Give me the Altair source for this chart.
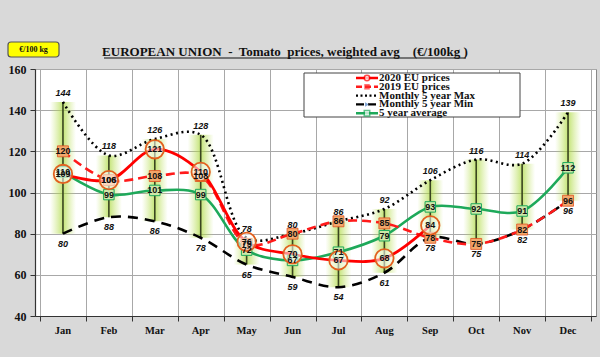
import altair as alt
import pandas as pd

months = ["Jan", "Feb", "Mar", "Apr", "May", "Jun", "Jul", "Aug", "Sep", "Oct", "Nov", "Dec"]
max5 = [144, 118, 126, 128, 78, 80, 86, 92, 106, 116, 114, 139]
min5 = [80, 88, 86, 78, 65, 59, 54, 61, 78, 75, 82, 96]
p2020 = [109, 106, 121, 110, 76, 70, 67, 68, 84, None, None, None]
p2019 = [120, 106, 108, 108, 75, 80, 86, 85, 78, 75, 82, 96]
avg5 = [110, 99, 101, 99, 72, 67, 71, 79, 93, 92, 91, 112]
y_ticks = [40, 60, 80, 100, 120, 140, 160]

W, H = 561, 247

df = pd.DataFrame({
    "month": months,
    "xi": [i + 0.5 for i in range(len(months))],
    "max5": max5, "min5": min5, "p2020": p2020, "p2019": p2019, "avg5": avg5,
})

xs = alt.Scale(domain=[0, 12], nice=False, zero=False)
ys = alt.Scale(domain=[40, 160], nice=False, zero=False)
X = alt.X("xi:Q", scale=xs, axis=alt.Axis(values=list(range(13)), labels=False, title=None,
                                          grid=True, gridColor="#a8a8a8", tickColor="#333",
                                          tickSize=5, domainColor="#333", domainWidth=1.2))
Yaxis = alt.Axis(values=y_ticks, title=None, grid=True, gridColor="#a8a8a8", tickColor="#333",
                 tickSize=5, domainColor="#333", domainWidth=1.2, labelFont="Liberation Serif",
                 labelFontWeight="bold", labelFontSize=12, labelColor="#111", labelPadding=4)

def Y(field):
    return alt.Y(f"{field}:Q", scale=ys, axis=Yaxis)

base = alt.Chart(df)
LF = "Liberation Sans"

glow = base.mark_bar(size=26, color=alt.Gradient(
    gradient="linear", x1=0, x2=1, y1=0, y2=0,
    stops=[alt.GradientStop(color="rgba(190,225,90,0)", offset=0),
           alt.GradientStop(color="rgba(170,216,60,0.7)", offset=0.5),
           alt.GradientStop(color="rgba(190,225,90,0)", offset=1)])).encode(
    x=X, y=Y("max5"), y2="min5")

rule = base.mark_rule(color="#3a4520", strokeWidth=1.6).encode(x=X, y=Y("max5"), y2="min5")

interp = "catmull-rom"
min_line = base.mark_line(color="black", strokeWidth=2.6, strokeDash=[10, 7], interpolate=interp).encode(x=X, y=Y("min5"))
max_line = base.mark_line(color="black", strokeWidth=2.6, strokeDash=[2, 3.5], interpolate=interp).encode(x=X, y=Y("max5"))
avg_line = base.mark_line(color="#1ea95a", strokeWidth=2.6, interpolate=interp).encode(x=X, y=Y("avg5"))
l2019 = base.mark_line(color="#ff1a1a", strokeWidth=2.6, strokeDash=[9, 5], interpolate=interp).encode(x=X, y=Y("p2019"))
l2020 = base.mark_line(color="#ff0000", strokeWidth=2.8, interpolate=interp).encode(x=X, y=Y("p2020"))

avg_pts = base.mark_square(size=110, fill="#cfe8a8", stroke="#1ea95a", strokeWidth=1, opacity=1).encode(x=X, y=Y("avg5"))
p19_pts = base.mark_square(size=120, fill="#f3a86c", stroke="#e05020", strokeWidth=0.8, opacity=1).encode(x=X, y=Y("p2019"))
p20_pts = base.mark_circle(size=340, fill="white", fillOpacity=0.55, stroke="#e2601e", strokeWidth=1.8).encode(x=X, y=Y("p2020"))

def labels(field, dy=0, italic=False, weight="bold"):
    return base.mark_text(font=LF, fontSize=9, fontWeight=weight, fontStyle="italic" if italic else "normal",
                          color="#111", dy=dy).encode(x=X, y=Y(field), text=alt.Text(f"{field}:Q", format="d"))

t_max = labels("max5", dy=-9, italic=True)
t_min = labels("min5", dy=10, italic=True)
t_avg = labels("avg5")
t_19 = labels("p2019")
t_20 = labels("p2020")

month_txt = base.mark_text(font="Liberation Serif", fontSize=10.5, fontWeight="bold", color="#111",
                           baseline="middle").encode(x=X, y=alt.value(H + 15), text="month:N")

one = pd.DataFrame({"k": [0]})
deco = []
NB = "\u00a0"
title_txt = f"EUROPEAN UNION {NB}-{NB} Tomato {NB}prices, weighted avg {NB}{NB}{NB}(€/100kg )"
# header: yellow unit box and underlined title
deco.append(alt.Chart(one).mark_rect(fill="#ffff00", stroke="#555", strokeWidth=1.2, cornerRadius=3).encode(
    x=alt.value(-27), x2=alt.value(24), y=alt.value(-27), y2=alt.value(-12)))
deco.append(alt.Chart(one).mark_text(font="Liberation Serif", fontSize=8, fontWeight="bold", color="#111").encode(
    x=alt.value(-1.5), y=alt.value(-19.5), text=alt.value("€/100 kg")))
deco.append(alt.Chart(one).mark_text(font="Liberation Serif", fontSize=13, fontWeight="bold", color="#111",
                                     baseline="alphabetic").encode(
    x=alt.value(250), y=alt.value(-13), text=alt.value(title_txt)))
deco.append(alt.Chart(one).mark_rule(color="#111", strokeWidth=1.2).encode(
    x=alt.value(69), x2=alt.value(431), y=alt.value(-11)))

# legend
deco.append(alt.Chart(one).mark_rect(fill="white", stroke="#444", strokeWidth=1).encode(
    x=alt.value(269), x2=alt.value(485), y=alt.value(4), y2=alt.value(48)))
leg = [
    ("2020 EU prices", "#ff0000", [1, 0], "circle"),
    ("2019 EU prices", "#ff1a1a", [6, 3], "cross"),
    ("Monthly 5 year Max", "black", [2, 2.5], None),
    ("Monthly 5 year Min", "black", [8, 4], "arrow"),
    ("5 year average", "#1ea95a", [1, 0], "square"),
]
for i, (lab, col, dash, mk) in enumerate(leg):
    yy = 9 + i * 8.8
    deco.append(alt.Chart(one).mark_rule(color=col, strokeWidth=2.4, strokeDash=dash).encode(
        x=alt.value(321), x2=alt.value(343), y=alt.value(yy)))
    if mk == "circle":
        deco.append(alt.Chart(one).mark_point(shape="circle", size=30, filled=True, fill="white",
                                              stroke="#ff0000", strokeWidth=1.5).encode(x=alt.value(332), y=alt.value(yy)))
    elif mk == "cross":
        deco.append(alt.Chart(one).mark_point(shape="square", size=30, filled=True, color="#ff2a2a").encode(
            x=alt.value(332), y=alt.value(yy)))
    elif mk == "arrow":
        deco.append(alt.Chart(one).mark_point(shape="triangle-right", size=20, filled=True, color="#4a7fc0").encode(
            x=alt.value(332), y=alt.value(yy)))
    elif mk == "square":
        deco.append(alt.Chart(one).mark_point(shape="square", size=30, filled=True, fill="white",
                                              stroke="#1ea95a", strokeWidth=1.5).encode(x=alt.value(332), y=alt.value(yy)))
    deco.append(alt.Chart(one).mark_text(font="Liberation Serif", fontSize=11, fontWeight="bold", color="#111",
                                         align="left", baseline="middle").encode(
        x=alt.value(344), y=alt.value(yy), text=alt.value(lab)))

chart = alt.layer(
    glow, rule, min_line, max_line, avg_line, l2019, l2020,
    avg_pts, p19_pts, p20_pts, t_max, t_min, t_avg, t_19, t_20, month_txt, *deco
).properties(
    width=W, height=H,
    autosize=alt.AutoSizeParams(type="none"),
    padding={"left": 35, "top": 69, "right": 4, "bottom": 41},
    background="#d9d9d9",
).configure_view(fill="white", stroke="#888", strokeWidth=1)

chart.save("out.html", embed_options={"renderer": "svg", "actions": False})
